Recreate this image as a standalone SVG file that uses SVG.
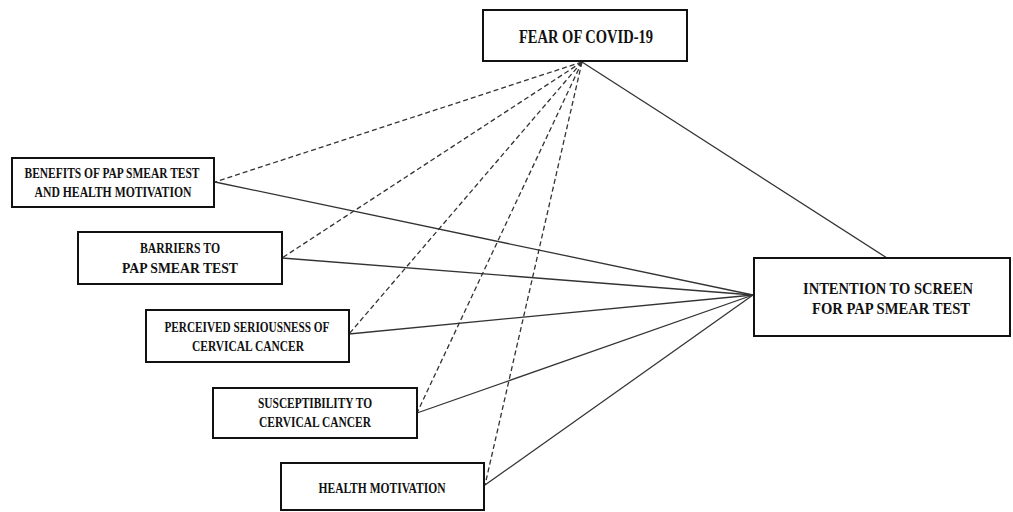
<svg xmlns="http://www.w3.org/2000/svg" width="1013" height="512" viewBox="0 0 1013 512">
<style>
.box{fill:#fff;stroke:#111;stroke-width:2}
.t{font-family:"Liberation Serif","Times New Roman",serif;font-weight:bold;fill:#111;text-anchor:middle}
.s{font-size:14.5px}
.solid{stroke:#333;stroke-width:1.3;fill:none}
.dash{stroke:#333;stroke-width:1.3;fill:none;stroke-dasharray:5 3}
</style>
<rect width="1013" height="512" fill="#fff"/>
<g id="connectors">
<line class="solid" x1="582" y1="62" x2="887" y2="258"/>
<line class="dash" x1="582" y1="62" x2="215" y2="182"/>
<line class="dash" x1="582" y1="62" x2="282" y2="258"/>
<line class="dash" x1="582" y1="62" x2="349" y2="334"/>
<line class="dash" x1="582" y1="62" x2="417" y2="413"/>
<line class="dash" x1="582" y1="62" x2="485" y2="485"/>
<line class="solid" x1="215" y1="182" x2="753" y2="295"/>
<line class="solid" x1="282" y1="258" x2="753" y2="295"/>
<line class="solid" x1="349" y1="334" x2="753" y2="295"/>
<line class="solid" x1="417" y1="413" x2="753" y2="295"/>
<line class="solid" x1="485" y1="485" x2="753" y2="295"/>
</g>
<g id="fear">
<rect class="box" x="483" y="10" width="204" height="51"/>
<text class="t" x="586" y="43" font-size="18" textLength="134" lengthAdjust="spacingAndGlyphs">FEAR OF COVID-19</text>
</g>
<g id="benefits">
<rect class="box" x="12" y="158" width="202" height="49"/>
<text class="t s" x="112" y="178" textLength="175" lengthAdjust="spacingAndGlyphs">BENEFITS OF PAP SMEAR TEST</text>
<text class="t s" x="113" y="197" textLength="157" lengthAdjust="spacingAndGlyphs">AND HEALTH MOTIVATION</text>
</g>
<g id="barriers">
<rect class="box" x="78" y="232" width="204" height="52"/>
<text class="t s" x="180" y="253" textLength="80" lengthAdjust="spacingAndGlyphs">BARRIERS TO</text>
<text class="t s" x="180" y="273" textLength="116" lengthAdjust="spacingAndGlyphs">PAP SMEAR TEST</text>
</g>
<g id="seriousness">
<rect class="box" x="146" y="310" width="203" height="52"/>
<text class="t s" x="247" y="332" textLength="165" lengthAdjust="spacingAndGlyphs">PERCEIVED SERIOUSNESS OF</text>
<text class="t s" x="248" y="351" textLength="112" lengthAdjust="spacingAndGlyphs">CERVICAL CANCER</text>
</g>
<g id="susceptibility">
<rect class="box" x="213" y="388" width="204" height="50"/>
<text class="t s" x="315" y="408" textLength="114" lengthAdjust="spacingAndGlyphs">SUSCEPTIBILITY TO</text>
<text class="t s" x="315" y="427" textLength="112" lengthAdjust="spacingAndGlyphs">CERVICAL CANCER</text>
</g>
<g id="health">
<rect class="box" x="281" y="463" width="203" height="47"/>
<text class="t s" x="382" y="493" textLength="127" lengthAdjust="spacingAndGlyphs">HEALTH MOTIVATION</text>
</g>
<g id="intention">
<rect class="box" x="754" y="258" width="256" height="78"/>
<text class="t" x="888" y="294" font-size="17" textLength="170" lengthAdjust="spacingAndGlyphs">INTENTION TO SCREEN</text>
<text class="t" x="891" y="314" font-size="17" textLength="158" lengthAdjust="spacingAndGlyphs">FOR PAP SMEAR TEST</text>
</g>
</svg>
